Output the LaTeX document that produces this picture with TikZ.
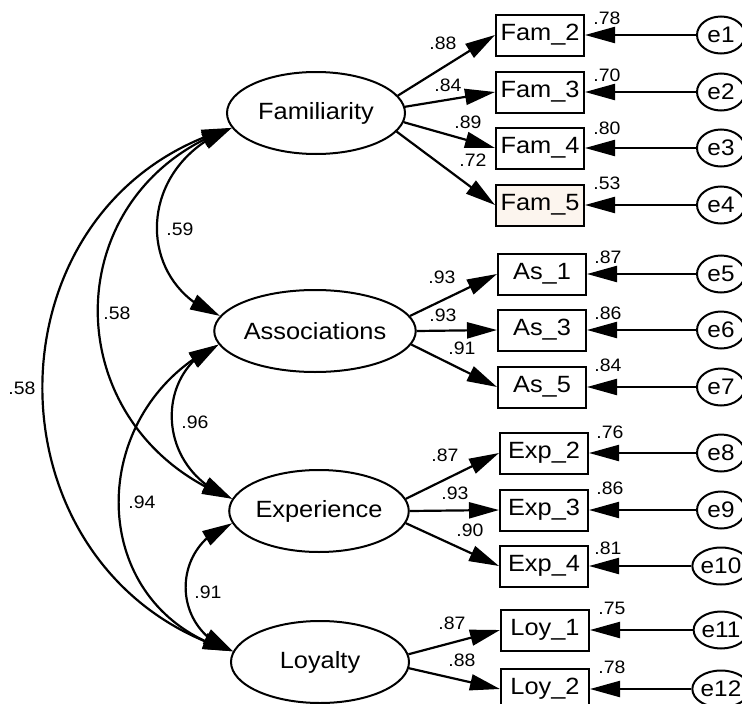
\documentclass[tikz,border=0pt]{standalone}
\usepackage{fontspec}
\setmainfont{Liberation Sans}[FakeStretch=1.08]
\usetikzlibrary{arrows.meta,shapes.geometric,bending}
\definecolor{boxtint}{HTML}{FCF5EE}
\begin{document}
\begin{tikzpicture}[x=1pt,y=-1pt,
  latent/.style={ellipse,draw,line width=2pt,minimum width=178pt,minimum height=82pt,inner sep=0pt,font=\fontsize{23.5}{25}\selectfont},
  obs/.style={rectangle,draw,line width=2pt,minimum width=88pt,minimum height=41pt,inner sep=0pt,font=\fontsize{23.5}{25}\selectfont},
  err/.style={ellipse,draw,line width=2pt,minimum width=48pt,minimum height=37pt,inner sep=0pt,font=\fontsize{22.5}{24}\selectfont},
  coef/.style={font=\fontsize{18}{20}\selectfont,inner sep=0pt},
  load/.style={line width=2.2pt,-{Triangle[length=30pt,width=16pt]}},
  cov/.style={line width=2.2pt,{Triangle[length=30pt,width=16pt]}-{Triangle[length=30pt,width=16pt]}},
]
\useasboundingbox (0,0) rectangle (742,704);

% latent constructs
\node[latent] (fam) at (316,113) {Familiarity};
\node[latent] (asc) at (315,331) {Associations};
\node[latent] (exp) at (319,511) {Experience};
\node[latent] (loy) at (320,662) {Loyalty};

% observed indicators
\node[obs] (f2) at (540,35) {Fam\_2};
\node[obs] (f3) at (540,92) {Fam\_3};
\node[obs] (f4) at (540,148) {Fam\_4};
\node[obs,fill=boxtint] (f5) at (540,205) {Fam\_5};
\node[obs] (a1) at (542,274) {As\_1};
\node[obs] (a3) at (542,330) {As\_3};
\node[obs] (a5) at (542,387) {As\_5};
\node[obs] (x2) at (544,453) {Exp\_2};
\node[obs] (x3) at (544,510) {Exp\_3};
\node[obs] (x4) at (544,566) {Exp\_4};
\node[obs] (l1) at (545,630) {Loy\_1};
\node[obs] (l2) at (545,689) {Loy\_2};

% error terms
\foreach \n/\y/\t in {1/35/f2,2/92/f3,3/148/f4,4/205/f5,5/274/a1,6/330/a3,7/387/a5,8/453/x2,9/510/x3,10/566/x4,11/630/l1,12/689/l2}{
  \node[err] (e\n) at (721,\y) {e\n};
  \draw[load] (e\n) -- (\t);
}

% factor loadings
\draw[load] (fam.12) -- (f2.west);
\draw[load] (fam.4) -- (f3.west);
\draw[load] (fam.354) -- (f4.west);
\draw[load] (fam.347) -- (f5.west);
\draw[load] (asc.9) -- (a1.west);
\draw[load] (asc.0) -- (a3.west);
\draw[load] (asc.352) -- (a5.west);
\draw[load] (exp.8) -- (x2.west);
\draw[load] (exp.0) -- (x3.west);
\draw[load] (exp.352) -- (x4.west);
\draw[load] (loy.5) -- (l1.west);
\draw[load] (loy.356) -- (l2.west);

% correlations between constructs
\draw[cov] (fam.190) .. controls (134,165) and (134,285) .. (asc.171);
\draw[cov] (fam.190) .. controls (53,190) and (53,430) .. (exp.172);
\draw[cov] (fam.190) .. controls (-21,200) and (-21,575) .. (loy.173);
\draw[cov] (asc.188) .. controls (154,370) and (154,470) .. (exp.172);
\draw[cov] (asc.188) .. controls (83,410) and (83,610) .. (loy.173);
\draw[cov] (exp.188) .. controls (170,545) and (170,630) .. (loy.173);

% loading estimates
\node[coef] (c1) at (443,43) {.88};
\node[coef] (c2) at (448,85) {.84};
\node[coef] (c3) at (468,122) {.89};
\node[coef] (c4) at (473,160) {.72};
\node[coef] (c5) at (442,277) {.93};
\node[coef] (c6) at (443,315) {.93};
\node[coef] (c7) at (462,348) {.91};
\node[coef] (c8) at (445,455) {.87};
\node[coef] (c9) at (455,493) {.93};
\node[coef] (c10) at (470,530) {.90};
\node[coef] (c11) at (452,623) {.87};
\node[coef] (c12) at (462,660) {.88};

% squared multiple correlations
\node[coef] (r1) at (607,18) {.78};
\node[coef] (r2) at (607,75) {.70};
\node[coef] (r3) at (607,128) {.80};
\node[coef] (r4) at (607,183) {.53};
\node[coef] (r5) at (608,257) {.87};
\node[coef] (r6) at (608,313) {.86};
\node[coef] (r7) at (608,365) {.84};
\node[coef] (r8) at (610,432) {.76};
\node[coef] (r9) at (610,488) {.86};
\node[coef] (r10) at (608,548) {.81};
\node[coef] (r11) at (612,608) {.75};
\node[coef] (r12) at (612,667) {.78};

% correlation estimates
\node[coef] (k1) at (180,229) {.59};
\node[coef] (k2) at (117,313) {.58};
\node[coef] (k3) at (22,388) {.58};
\node[coef] (k4) at (195,422) {.96};
\node[coef] (k5) at (142,502) {.94};
\node[coef] (k6) at (208,592) {.91};
\end{tikzpicture}
\end{document}
